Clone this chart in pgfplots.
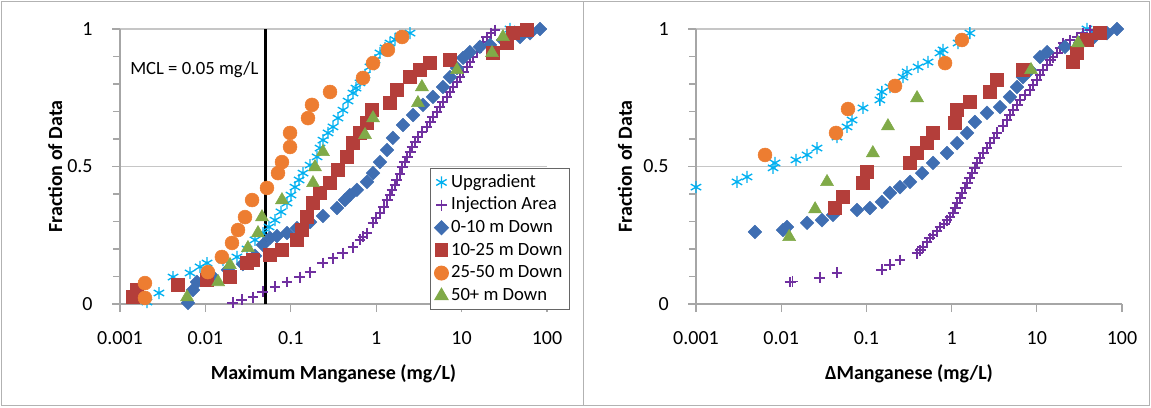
\documentclass[border=0pt]{standalone}
\usepackage{fontspec}
\setmainfont{Carlito}
\usepackage{pgfplots}
\pgfplotsset{compat=1.18}
\definecolor{cU}{RGB}{0,176,240}
\definecolor{cI}{RGB}{112,48,160}
\definecolor{cB}{RGB}{63,110,178}
\definecolor{cR}{RGB}{180,62,58}
\definecolor{cO}{RGB}{237,125,49}
\definecolor{cG}{RGB}{128,170,72}
\pgfplotsset{
  sU/.style={only marks, mark=asterisk, mark size=4.5pt, line width=1pt, color=cU},
  sI/.style={only marks, mark=+, mark size=4.1pt, line width=1.1pt, color=cI},
  sB/.style={only marks, mark=square*, mark size=3.6pt, mark options={rotate=45, fill=cB, draw=cB}, color=cB},
  sR/.style={only marks, mark=square*, mark size=4.8pt, mark options={fill=cR, draw=cR}, color=cR},
  sO/.style={only marks, mark=*, mark size=5.2pt, mark options={fill=cO, draw=cO}, color=cO},
  sG/.style={only marks, mark=triangle*, mark size=5.6pt, mark options={fill=cG, draw=cG}, color=cG},
}
\begin{document}
\begin{tikzpicture}[x=0.75pt,y=0.75pt]
\useasboundingbox (0,0) rectangle (1151,407);
\draw[gray!60, line width=0.75pt] (1.5,1.5) rectangle (1149.5,405.5);
\draw[gray!60, line width=0.75pt] (583,1.5) -- (583,405.5);

% ---------------- left panel ----------------
\begin{axis}[at={(90pt,77.25pt)}, anchor=south west, width=320.25pt,
    xmode=log, xmin=0.001, xmax=100, ymin=0, ymax=1,
    scale only axis, height=206.25pt,
    axis x line*=bottom, axis y line*=left,
    axis line style={draw=gray!70, line width=0.8pt},
    xtick={0.001,0.01,0.1,1,10,100},
    xticklabels={0.001,0.01,0.1,1,10,100},
    xminorticks=false,
    ytick={0,0.5,1}, yticklabels={0,0.5,1},
    minor ytick={0.1,0.2,0.3,0.4,0.6,0.7,0.8,0.9},
    tick align=outside, major tick length=6pt, minor tick length=5pt,
    every tick/.style={draw=gray!70, line width=0.8pt},
    ymajorgrids, major grid style={draw=gray!45, line width=0.8pt},
    clip=false,
    ticklabel style={font=\fontsize{15}{17}\selectfont},
    xticklabel style={yshift=-11pt},
    yticklabel style={xshift=-11pt},
    label style={font=\bfseries\fontsize{15}{18}\selectfont},
    xlabel style={at={(axis description cs:0.5,-0.255)}, anchor=center},
    ylabel={Fraction of Data},
  xlabel={Maximum Manganese (mg/L)},
  ylabel style={at={(axis description cs:-0.152,0.5)}, anchor=center},
  legend style={at={(axis description cs:0.726,0.495)}, anchor=north west,
    draw=gray!80!black, line width=0.8pt, fill=white,
    font=\fontsize{14}{16}\selectfont,
    nodes={inner ysep=1.5pt, text height=10.5pt, text depth=3.5pt},
    row sep=0pt},
  legend cell align=left]
\addplot[black, line width=2.2pt, forget plot] coordinates {(0.05,0) (0.05,1)};
\addplot[sU] coordinates {
(0.00207,0.007) (0.00286,0.04) (0.00418,0.098) (0.00661,0.113) (0.00865,0.135)
(0.01045,0.149) (0.0161,0.16) (0.0234,0.171) (0.0307,0.2) (0.0381,0.233)
(0.0472,0.258) (0.0556,0.28) (0.0653,0.305) (0.0767,0.335) (0.0903,0.367)
(0.1005,0.396) (0.112,0.425) (0.125,0.451) (0.139,0.476) (0.168,0.505)
(0.203,0.535) (0.220,0.567) (0.238,0.596) (0.273,0.622) (0.312,0.644)
(0.357,0.676) (0.408,0.705) (0.468,0.738) (0.535,0.767) (0.580,0.785)
(0.646,0.804) (0.740,0.833) (0.845,0.862) (0.968,0.887) (1.107,0.913)
(1.27,0.931) (1.45,0.949) (1.66,0.962) (1.90,0.975) (2.49,0.985) (36.9,1.0)};
\addlegendentry{Upgradient}
\addplot[sI] coordinates {
(0.0210,0.004) (0.0268,0.015) (0.0361,0.025) (0.0472,0.044) (0.0653,0.062)
(0.0903,0.080) (0.128,0.098) (0.168,0.116) (0.238,0.149) (0.312,0.167)
(0.408,0.185) (0.535,0.207) (0.646,0.233) (0.700,0.244) (0.780,0.258)
(0.918,0.295) (0.995,0.313) (1.107,0.331) (1.23,0.353) (1.34,0.378)
(1.45,0.396) (1.53,0.415) (1.66,0.433) (1.75,0.451) (1.90,0.473)
(2.01,0.498) (2.17,0.516) (2.30,0.535) (2.49,0.553) (2.63,0.571)
(2.85,0.589) (3.08,0.607) (3.44,0.625) (3.93,0.644) (4.27,0.662)
(4.62,0.680) (5.15,0.698) (5.58,0.716) (6.05,0.735) (6.74,0.753)
(7.31,0.771) (7.92,0.789) (8.83,0.807) (9.57,0.825) (10.4,0.844)
(11.6,0.862) (12.5,0.88) (13.6,0.898) (15.1,0.916) (16.4,0.935)
(17.8,0.953) (19.8,0.971) (22.1,0.985) (24.6,0.996)};
\addlegendentry{Injection Area}
\addplot[sB] coordinates {
(0.00625,0.004) (0.00716,0.051) (0.00797,0.08) (0.01194,0.102) (0.0184,0.124)
(0.0275,0.145) (0.0381,0.175) (0.0472,0.215) (0.0571,0.240) (0.0689,0.247)
(0.0903,0.258) (0.118,0.276) (0.168,0.298) (0.238,0.32) (0.348,0.349)
(0.431,0.378) (0.492,0.396) (0.595,0.415) (0.780,0.444) (0.918,0.476)
(1.107,0.516) (1.34,0.56) (1.57,0.604) (2.06,0.651) (2.70,0.687)
(3.53,0.724) (4.62,0.753) (6.05,0.789) (7.31,0.825) (8.83,0.858)
(10.4,0.895) (12.5,0.916) (16.4,0.935) (21.5,0.942) (30.5,0.96)
(48.3,0.971) (63.2,0.985) (82.8,1.0)};
\addlegendentry{0-10 m Down}
\addplot[sR] coordinates {
(0.00142,0.025) (0.00158,0.051) (0.00478,0.069) (0.0104,0.087) (0.0194,0.098)
(0.0307,0.149) (0.0361,0.16) (0.0570,0.178) (0.0788,0.196) (0.118,0.233)
(0.135,0.269) (0.155,0.316) (0.182,0.367) (0.220,0.404) (0.288,0.44)
(0.357,0.487) (0.455,0.535) (0.535,0.585) (0.646,0.622) (0.780,0.658)
(0.893,0.705) (1.45,0.731) (1.75,0.778) (2.49,0.825) (3.26,0.851)
(4.27,0.876) (7.31,0.887) (23.4,0.913) (34.0,0.949) (40.0,0.985) (58.3,0.996)};
\addlegendentry{10-25 m Down}
\addplot[sO] coordinates {
(0.00196,0.022) (0.00196,0.076) (0.0107,0.116) (0.0156,0.171) (0.0205,0.222)
(0.0241,0.269) (0.0291,0.316) (0.0352,0.378) (0.0526,0.422) (0.0708,0.476)
(0.0788,0.516) (0.098,0.571) (0.098,0.622) (0.159,0.676) (0.177,0.724)
(0.288,0.771) (0.700,0.822) (0.918,0.876) (1.37,0.924) (2.01,0.971)};
\addlegendentry{25-50 m Down}
\addplot[sG] coordinates {
(0.0061,0.025) (0.0141,0.08) (0.0194,0.142) (0.0315,0.204) (0.0413,0.258)
(0.046,0.316) (0.0788,0.378) (0.182,0.44) (0.192,0.498) (0.238,0.553)
(0.740,0.615) (0.918,0.676) (3.08,0.731) (3.43,0.789) (8.83,0.851)
(22.7,0.913) (30.5,0.971)};
\addlegendentry{50+ m Down}
\node[anchor=west, inner sep=0pt, font=\fontsize{14}{16}\selectfont] at (axis cs:0.00131,0.851) {MCL = 0.05 mg/L};
\end{axis}

% ---------------- right panel ----------------
\begin{axis}[at={(522pt,77.25pt)}, anchor=south west, width=319.5pt,
    xmode=log, xmin=0.001, xmax=100, ymin=0, ymax=1,
    scale only axis, height=206.25pt,
    axis x line*=bottom, axis y line*=left,
    axis line style={draw=gray!70, line width=0.8pt},
    xtick={0.001,0.01,0.1,1,10,100},
    xticklabels={0.001,0.01,0.1,1,10,100},
    xminorticks=false,
    ytick={0,0.5,1}, yticklabels={0,0.5,1},
    minor ytick={0.1,0.2,0.3,0.4,0.6,0.7,0.8,0.9},
    tick align=outside, major tick length=6pt, minor tick length=5pt,
    every tick/.style={draw=gray!70, line width=0.8pt},
    ymajorgrids, major grid style={draw=gray!45, line width=0.8pt},
    clip=false,
    ticklabel style={font=\fontsize{15}{17}\selectfont},
    xticklabel style={yshift=-11pt},
    yticklabel style={xshift=-11pt},
    label style={font=\bfseries\fontsize{15}{18}\selectfont},
    xlabel style={at={(axis description cs:0.5,-0.255)}, anchor=center},
    ylabel={Fraction of Data},
  xlabel={ΔManganese (mg/L)},
  ylabel style={at={(axis description cs:-0.167,0.5)}, anchor=center}]
\addplot[sU] coordinates {
(0.001,0.425) (0.00303,0.444) (0.00397,0.462) (0.00802,0.495) (0.00846,0.513)
(0.0149,0.524) (0.0201,0.542) (0.0263,0.567) (0.0452,0.607) (0.0592,0.644)
(0.0678,0.669) (0.0912,0.713) (0.144,0.742) (0.152,0.771) (0.189,0.789)
(0.269,0.825) (0.300,0.844) (0.404,0.862) (0.529,0.88) (0.731,0.913)
(0.793,0.924) (1.19,0.949) (1.64,0.985) (38.8,1.0)};
\addplot[sI] coordinates {
(0.0127,0.08) (0.0135,0.082) (0.0285,0.095) (0.0452,0.113) (0.152,0.124)
(0.189,0.142) (0.248,0.16) (0.393,0.185) (0.426,0.196) (0.461,0.207)
(0.514,0.225) (0.557,0.24) (0.605,0.251) (0.674,0.265) (0.731,0.28)
(0.815,0.291) (0.883,0.305) (0.958,0.316) (1.04,0.331) (1.10,0.349)
(1.16,0.367) (1.26,0.385) (1.32,0.404) (1.44,0.422) (1.52,0.44)
(1.64,0.458) (1.74,0.476) (1.88,0.495) (1.99,0.513) (2.15,0.531)
(2.34,0.549) (2.60,0.567) (2.82,0.585) (3.15,0.604) (3.41,0.622)
(4.01,0.647) (4.47,0.669) (4.84,0.687) (5.26,0.705) (5.86,0.724)
(6.35,0.742) (7.28,0.76) (8.32,0.778) (9.02,0.796) (10.0,0.815)
(10.9,0.833) (11.8,0.851) (13.2,0.869) (14.3,0.887) (15.5,0.898)
(17.3,0.913) (18.7,0.931) (20.3,0.949) (24.5,0.96) (29.6,0.971)
(34.8,0.985) (42.1,0.996)};
\addplot[sB] coordinates {
(0.00492,0.262) (0.0105,0.269) (0.0117,0.28) (0.0201,0.295) (0.0301,0.305)
(0.0406,0.324) (0.0776,0.342) (0.110,0.349) (0.152,0.371) (0.189,0.404)
(0.248,0.425) (0.325,0.444) (0.450,0.476) (0.605,0.513) (0.883,0.549)
(1.16,0.585) (1.52,0.622) (1.88,0.662) (2.60,0.695) (3.70,0.716)
(4.84,0.753) (5.86,0.789) (6.89,0.825) (8.32,0.851) (10.9,0.898)
(13.2,0.916) (21.4,0.935) (32.1,0.949) (45.7,0.967) (66.7,0.985) (87.4,1.0)};
\addplot[sR] coordinates {
(0.0428,0.349) (0.0531,0.389) (0.0912,0.44) (0.102,0.48) (0.325,0.513)
(0.393,0.549) (0.514,0.585) (0.605,0.622) (1.10,0.658) (1.16,0.705)
(1.64,0.735) (2.82,0.771) (3.41,0.815) (6.89,0.851) (26.6,0.88)
(29.6,0.913) (38.8,0.96) (55.2,0.985)};
\addplot[sO] coordinates {
(0.00646,0.542) (0.0440,0.622) (0.0608,0.709) (0.217,0.793) (0.838,0.876) (1.32,0.96)};
\addplot[sG] coordinates {
(0.0124,0.244) (0.0250,0.345) (0.0345,0.444) (0.119,0.549) (0.179,0.647)
(0.393,0.749) (8.55,0.851) (30.5,0.949)};
\end{axis}
\end{tikzpicture}
\end{document}
